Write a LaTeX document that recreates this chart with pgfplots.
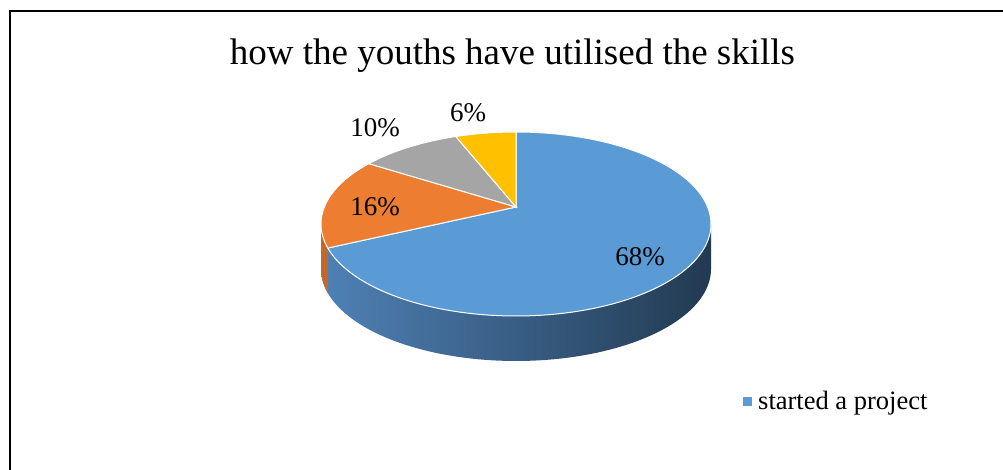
\documentclass[border=0pt]{standalone}
\usepackage{pgfplots}
\pgfplotsset{compat=1.18}
\usepackage{pgfplotstable}
\usepackage{fontspec}
\setmainfont{Liberation Serif}
\definecolor{pieblue}{HTML}{5B9BD5}
\definecolor{pieorange}{HTML}{ED7D31}
\definecolor{piegray}{HTML}{A5A5A5}
\definecolor{pieyellow}{HTML}{FFC000}
\definecolor{sideL}{HTML}{4F81B6}
\definecolor{sideM}{HTML}{32537A}
\definecolor{sideR}{HTML}{223A51}
\definecolor{sideO}{HTML}{C4682A}

% share of each answer, in percent
\pgfplotstableread{
idx value
0 68
1 16
2 10
3 6
}\pietable
\pgfplotstablegetelem{0}{value}\of\pietable\let\vA\pgfplotsretval
\pgfplotstablegetelem{1}{value}\of\pietable\let\vB\pgfplotsretval
\pgfplotstablegetelem{2}{value}\of\pietable\let\vC\pgfplotsretval
\pgfplotstablegetelem{3}{value}\of\pietable\let\vD\pgfplotsretval
\pgfmathsetmacro\aA{90-3.6*\vA}
\pgfmathsetmacro\aB{\aA-3.6*\vB}
\pgfmathsetmacro\aC{\aB-3.6*\vC}
\pgfmathsetmacro\aD{\aC-3.6*\vD}
% perspective (tilt) parameter
\def\tp{0.185}
\pgfmathsetmacro\sp{sqrt(1-\tp*\tp)}
\pgfmathsetmacro\uA{cos(\aA)*\sp/(1+\tp*sin(\aA))}
\pgfmathsetmacro\vvA{(sin(\aA)+\tp)/(1+\tp*sin(\aA))}
\pgfmathsetmacro\thB{atan2(\vvA,\uA)+360}
\pgfmathsetmacro\bxA{516+195*\uA}
\pgfmathsetmacro\byA{-224+92*\vvA}
\pgfmathsetmacro\apy{-224+92*\tp}

\begin{document}%
\begin{tikzpicture}
\begin{axis}[
  x=1pt, y=1pt, xmin=0, xmax=1003, ymin=-469, ymax=0,
  hide axis, clip=true, anchor=south west, at={(0,0)},
  declare function={
    px(\a)=516+195*cos(\a)*\sp/(1+\tp*sin(\a));
    py(\a)=-224+92*(sin(\a)+\tp)/(1+\tp*sin(\a));
    ex(\a)=516+195*cos(\a);
    eyb(\a)=-269+92*sin(\a);
  },
  legend style={at={(0.7408,0.1439)}, anchor=west, draw=none, fill=none,
    inner sep=0pt, font=\fontsize{26.5}{28}\selectfont},
  legend image code/.code={\fill[pieblue,draw=none] (0pt,-4.5pt) rectangle (9pt,4.5pt);
    \path[draw=none,fill=none] (0pt,0pt) -- (13pt,0pt);},
]
% frame
\draw[line width=2pt] (10,-11) rectangle (1015,-475);
% sides
\addplot[forget plot, draw=none, left color=sideL, middle color=sideM, right color=sideR,
  domain=180:360, samples=120] ({ex(x)},{eyb(x)}) -- (711,-224) -- (321,-224) -- cycle;
\addplot[forget plot, draw=none, fill=sideO, domain=180:\thB, samples=20]
  ({ex(x)},{eyb(x)}) -- (\bxA,\byA) -- (321,-224) -- cycle;
% top slices
\addplot[fill=pieblue, draw=white, line width=1pt, domain=\aA:90, samples=150]
  ({px(x)},{py(x)}) -- (516,\apy) -- cycle;
\addlegendentry{started a project}
\addplot[forget plot, fill=pieorange, draw=white, line width=1pt, domain=\aB:\aA, samples=40]
  ({px(x)},{py(x)}) -- (516,\apy) -- cycle;
\addplot[forget plot, fill=piegray, draw=white, line width=1pt, domain=\aC:\aB, samples=30]
  ({px(x)},{py(x)}) -- (516,\apy) -- cycle;
\addplot[forget plot, fill=pieyellow, draw=white, line width=1pt, domain=\aD:\aC, samples=20]
  ({px(x)},{py(x)}) -- (516,\apy) -- cycle;
% labels
\node[font=\fontsize{27}{29}\selectfont] at (640,-257) {\vA\%};
\node[font=\fontsize{27}{29}\selectfont] at (375,-207) {\vB\%};
\node[font=\fontsize{27}{29}\selectfont] at (375,-128) {\vC\%};
\node[font=\fontsize{27}{29}\selectfont] at (468,-113) {\vD\%};
% title
\node[anchor=base, font=\fontsize{37}{40}\selectfont] at (512.5,-65) {how the youths have utilised the skills};
\end{axis}
\pgfresetboundingbox
\useasboundingbox (0,0) rectangle (1003pt,469pt);
\end{tikzpicture}%
\end{document}
